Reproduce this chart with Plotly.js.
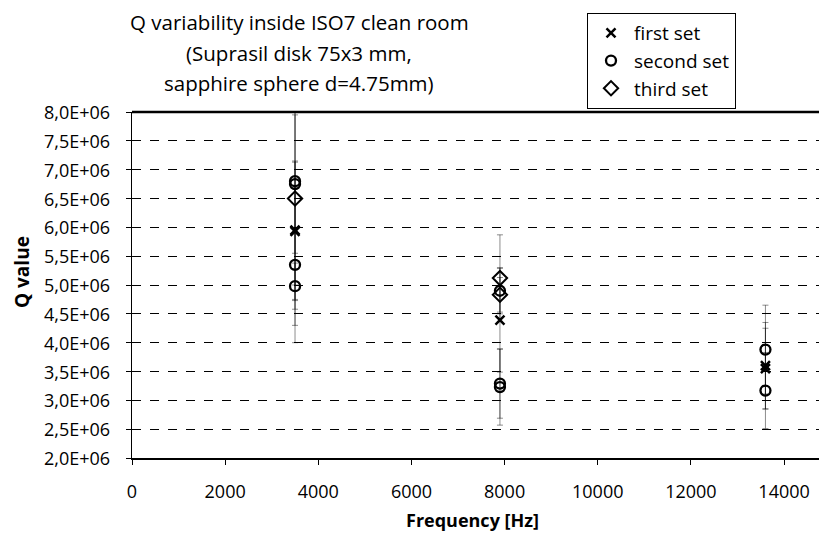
<!DOCTYPE html>
<html>
<head>
<meta charset="utf-8">
<script src="https://cdn.plot.ly/plotly-3.0.1.min.js"></script>
<style>html,body{margin:0;padding:0;background:#fff;}#chart{width:819px;height:533px;}</style>
</head>
<body>
<div id="chart"></div>
<script>
// ---- data ----
const firstFreq = [3500, 3500, 7900, 13600, 13600];
const firstQ    = [5.95e6, 5.93e6, 4.39e6, 3.60e6, 3.55e6];
const firstErr  = [1.2e6, 1.2e6, 0.9e6, 0.75e6, 0.70e6];

const secondFreq = [3500, 3500, 3500, 3500, 7900, 7900, 7900, 13600, 13600];
const secondQ    = [6.80e6, 6.75e6, 5.35e6, 4.98e6, 4.90e6, 3.29e6, 3.23e6, 3.88e6, 3.17e6];
const secondErr  = [2.5e6, 1.2e6, 1.35e6, 0.4e6, 0.4e6, 0.6e6, 0.66e6, 0.77e6, 0.66e6];

const thirdFreq = [3500, 7900, 7900];
const thirdQ    = [6.50e6, 5.12e6, 4.83e6];
const thirdErr  = [1.5e6, 0.75e6, 0.3e6];

const yTickVals = [2.0e6, 2.5e6, 3.0e6, 3.5e6, 4.0e6, 4.5e6, 5.0e6, 5.5e6, 6.0e6, 6.5e6, 7.0e6, 7.5e6, 8.0e6];
const yTickText = ["2,0E+06","2,5E+06","3,0E+06","3,5E+06","4,0E+06","4,5E+06","5,0E+06","5,5E+06","6,0E+06","6,5E+06","7,0E+06","7,5E+06","8,0E+06"];
const xTickVals = [0, 2000, 4000, 6000, 8000, 10000, 12000, 14000];
const xTickText = ["0", "2000", "4000", "6000", "8000", "10000", "12000", "14000"];

const titleLines = ["Q variability inside ISO7 clean room", "(Suprasil disk 75x3 mm,", "sapphire sphere d=4.75mm)"];
const seriesNames = ["first set", "second set", "third set"];

const FONT = "Open Sans, Lato, sans-serif";
const errStyle = {type: 'data', visible: true, color: 'rgba(0,0,0,0.45)', thickness: 1, width: 3};

const traces = [
  {x: firstFreq, y: firstQ, name: seriesNames[0], type: 'scatter', mode: 'markers',
   error_y: Object.assign({array: firstErr}, errStyle),
   marker: {symbol: 'x-thin-open', size: 9, color: '#000', line: {width: 2.5, color: '#000'}}},
  {x: secondFreq, y: secondQ, name: seriesNames[1], type: 'scatter', mode: 'markers',
   error_y: Object.assign({array: secondErr}, errStyle),
   marker: {symbol: 'circle-open', size: 10, color: '#000', line: {width: 2.3, color: '#000'}}},
  {x: thirdFreq, y: thirdQ, name: seriesNames[2], type: 'scatter', mode: 'markers',
   error_y: Object.assign({array: thirdErr}, errStyle),
   marker: {symbol: 'diamond-open', size: 11, color: '#000', line: {width: 2, color: '#000'}}},
  // invisible helper on overlay y axis that only draws inner tick marks
  {x: [0], y: [2e6], yaxis: 'y2', showlegend: false, hoverinfo: 'skip', mode: 'markers', marker: {opacity: 0}}
];

const L = 132, T = 112, B = 75, W = 819 - L, H = 533 - T - B;
const px = x => (x - L) / W;
const py = y => (533 - B - y) / H;

const annotations = [
  {text: titleLines[0], x: px(299), y: py(22)},
  {text: titleLines[1], x: px(299), y: py(53)},
  {text: titleLines[2], x: px(299), y: py(83)}
].map(a => Object.assign({xref: 'paper', yref: 'paper', showarrow: false, xanchor: 'center', yanchor: 'middle',
  font: {family: FONT, size: 20.5, color: '#000'}}, a));

// y tick labels, placed on the y scale
yTickVals.forEach((v, i) => annotations.push({text: yTickText[i], xref: 'paper', yref: 'y', x: px(112), y: v,
  xanchor: 'right', yanchor: 'middle', showarrow: false, font: {family: FONT, size: 18, color: '#000'}}));

annotations.push({text: '<b>Q value</b>', xref: 'paper', yref: 'paper', x: px(22), y: py(272), textangle: -90,
  showarrow: false, xanchor: 'center', yanchor: 'middle', font: {family: FONT, size: 19, color: '#000'}});
annotations.push({text: '<b>Frequency [Hz]</b>', xref: 'paper', yref: 'paper', x: px(472), y: py(520),
  showarrow: false, xanchor: 'center', yanchor: 'middle', font: {family: FONT, size: 18, color: '#000'}});

const layout = {
  width: 819, height: 533,
  margin: {l: L, r: 0, t: T, b: B},
  paper_bgcolor: '#fff', plot_bgcolor: '#fff',
  font: {family: FONT, size: 18, color: '#000'},
  showlegend: true,
  legend: {x: px(587), y: py(13), xanchor: 'left', yanchor: 'top',
    bordercolor: '#000', borderwidth: 1, bgcolor: '#fff',
    font: {family: FONT, size: 19, color: '#000'}, itemwidth: 36, tracegroupgap: 0},
  xaxis: {range: [0, 14750], tickvals: xTickVals, ticktext: xTickText, showgrid: false, zeroline: false,
    showline: true, linecolor: '#000', linewidth: 1.5, mirror: false,
    ticks: 'outside', ticklen: 5, tickcolor: '#000', ticklabelstandoff: 12,
    tickfont: {family: FONT, size: 18, color: '#000'}},
  yaxis: {range: [2e6, 8e6], tickvals: yTickVals, showticklabels: false,
    showgrid: true, gridcolor: '#000', gridwidth: 1, griddash: 'dash', zeroline: false,
    showline: true, linecolor: '#000', linewidth: 1.5,
    ticks: 'outside', ticklen: 5, tickcolor: '#000'},
  yaxis2: {range: [2e6, 8e6], overlaying: 'y', side: 'left', tickvals: yTickVals,
    showticklabels: false, showgrid: false, zeroline: false, showline: false,
    ticks: 'inside', ticklen: 5, tickcolor: '#000'},
  shapes: [{type: 'line', xref: 'paper', yref: 'paper', x0: 0, x1: 1, y0: 1, y1: 1,
    line: {color: '#000', width: 2.5}}],
  annotations: annotations
};

Plotly.newPlot('chart', traces, layout, {displayModeBar: false, staticPlot: true});
</script>
</body>
</html>
